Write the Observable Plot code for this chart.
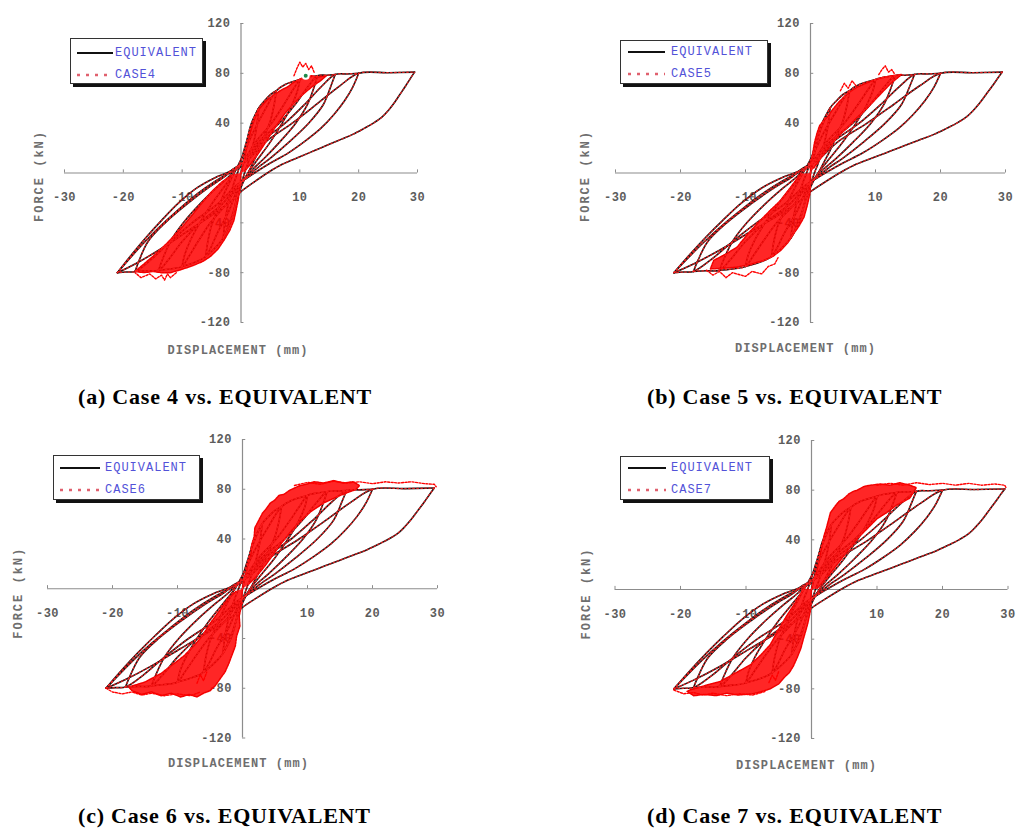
<!DOCTYPE html>
<html>
<head>
<meta charset="utf-8">
<script src="https://cdn.jsdelivr.net/npm/d3@7"></script>
<script src="https://cdn.jsdelivr.net/npm/@observablehq/plot@0.6"></script>
<style>
  body { margin: 0; background: #fff; }
  #root { position: relative; width: 1016px; height: 829px; overflow: hidden; background: #fff; }
  .panel { position: absolute; }
  .legend { position: absolute; box-sizing: border-box; background: #fff; border: 1px solid #333; box-shadow: 3px 3px 0 #111; }
  .legend span { position: absolute; font-family: "Liberation Mono", monospace; font-size: 12px; line-height: 14px; letter-spacing: 1.0px; color: #5252d8; white-space: nowrap; }
  .legend svg { position: absolute; left: 0; top: 0; }
  .caption { position: absolute; font-family: "Liberation Serif", "Times New Roman", serif; font-weight: bold; font-size: 22px; line-height: 22px; letter-spacing: 0.8px; white-space: nowrap; color: #000; }
</style>
</head>
<body>
<div id="root"></div>
<script>
// ---------- data ----------
const xTicks = [-30, -20, -10, 10, 20, 30];
const yTicks = [120, 80, 40, -40, -80, -120];
const xTitle = "DISPLACEMENT (mm)";
const yTitle = "FORCE (kN)";
const equivName = "EQUIVALENT";
const caseNames = ["CASE4", "CASE5", "CASE6", "CASE7"];
const captions = [
  "(a) Case 4 vs. EQUIVALENT",
  "(b) Case 5 vs. EQUIVALENT",
  "(c) Case 6 vs. EQUIVALENT",
  "(d) Case 7 vs. EQUIVALENT"
];

// EQUIVALENT hysteresis, one array per branch (reversal to reversal) [displacement mm, force kN]
const eqBranch1 = [[0,0],[0.5,12],[1,25],[1.7,39],[3,52]];
const eqBranch2 = [[3,52],[2.8,42],[2.4,30],[1.8,18],[1.2,8],[0.6,0],[0.2,-6],[-0.5,-14],[-1,-26],[-1.7,-39],[-3,-52]];
const eqBranch3 = [[-3,-52],[-2.8,-42],[-2.4,-30],[-1.8,-18],[-1.2,-8],[-0.6,0],[-0.2,6],[0.5,18],[1.5,34],[3,52],[4,58],[5,63],[6,66]];
const eqBranch4 = [[6,66],[5.6,54],[5,42],[4,30],[3,18],[2,8],[1.2,0],[0.5,-6],[-0.5,-18],[-1.5,-34],[-3,-52],[-4,-58],[-5,-63],[-6,-67]];
const eqBranch5 = [[-6,-67],[-5.6,-54],[-5,-42],[-4,-30],[-3,-18],[-2,-8],[-1.2,0],[-0.5,6],[0.5,16],[2,32],[4,50],[6,66],[7.5,71],[10,75]];
const eqBranch6 = [[10,75],[9.6,66],[8.6,54],[7,40],[5,25],[3,12],[1.6,3],[0.8,-3],[-0.5,-12],[-2,-30],[-4,-48],[-6,-67],[-7.5,-71],[-10,-75]];
const eqBranch7 = [[-10,-75],[-9.6,-66],[-8.6,-54],[-7,-40],[-5,-25],[-3,-12],[-1.6,-3],[-0.8,3],[0.5,10],[2.5,25],[5.2,40],[7.3,55],[9,68],[10,75],[11.5,77],[13,78]];
const eqBranch8 = [[13,78],[12.5,70],[11.3,55],[9.3,40],[6.6,25],[4,12],[2,3],[1,-3],[-0.5,-10],[-2.5,-25],[-5.2,-40],[-7.3,-55],[-9,-68],[-10,-75],[-12,-77],[-14,-78]];
const eqBranch9 = [[-14,-78],[-13.4,-70],[-12,-55],[-9.8,-40],[-7,-25],[-4.2,-12],[-2.1,-3],[-1,3],[0.6,10],[3,25],[6.5,40],[9.2,55],[11.5,70],[13,78],[14.5,78.5],[16,79]];
const eqBranch10 = [[16,79],[15.3,70],[14,55],[11.5,40],[8.2,25],[5,12],[2.5,3],[1.2,-3],[-0.6,-10],[-3.2,-25],[-7,-40],[-10,-55],[-12.4,-70],[-14,-78],[-16,-78.5],[-18,-79]];
const eqBranch11 = [[-18,-79],[-17.3,-70],[-15.8,-55],[-12.9,-40],[-9.2,-25],[-5.6,-12],[-2.8,-3],[-1.4,3],[0.8,10],[3.5,25],[7.5,40],[10.8,55],[13.8,70],[16,79],[18,79.5],[20,80]];
const eqBranch12 = [[20,80],[19,69],[17.6,58],[15.8,47],[13.6,36],[11,26],[8,16],[5,8],[2.6,1],[1,-4],[-0.8,-10],[-4,-25],[-8.3,-40],[-12,-55],[-15.4,-70],[-18,-79],[-19.5,-79.5],[-21,-80]];
const eqBranch13 = [[-21,-80],[-18.5,-65],[-16,-51],[-13.5,-38],[-10.6,-24],[-7.5,-12],[-4.5,-4],[-2,1],[1,10],[4.2,25],[8.7,40],[12.8,55],[16.8,70],[20,80],[25,80.5],[29.5,81]];
const eqBranch14 = [[29.5,81],[28.8,76],[28,70],[27,63],[26,56],[25,50],[24,45],[22.5,40],[21,36],[19,31],[17,27],[15,23],[12.5,18],[10,13],[7,7],[4.8,1],[2,-8],[0,-15],[-1.5,-22],[-5,-34],[-9.5,-48],[-14,-62],[-18,-73],[-21,-80]];
const eqBranch15 = [[-21,-80],[-18.8,-68],[-16.5,-56],[-14,-44],[-11,-31],[-7.5,-17],[-4.5,-7],[-2,0],[0,5]];
const equivalentBranches = [eqBranch1, eqBranch2, eqBranch3, eqBranch4, eqBranch5, eqBranch6, eqBranch7, eqBranch8,
  eqBranch9, eqBranch10, eqBranch11, eqBranch12, eqBranch13, eqBranch14, eqBranch15];

// dense test-data regions [x, y, part]
const case4Band = [
  [0,0,"q1"],[0.3,6,"q1"],[0.6,12,"q1"],[0.9,19,"q1"],[1.2,25,"q1"],[1.6,33,"q1"],[2.2,42,"q1"],[2.7,48,"q1"],[3.2,52,"q1"],[3.9,56,"q1"],[4.5,59,"q1"],[5.3,62,"q1"],[6,64,"q1"],[7,67,"q1"],[7.9,69,"q1"],[8.7,72,"q1"],[9.5,74,"q1"],[10.3,76,"q1"],[11,77,"q1"],[12,78,"q1"],[13,77,"q1"],[14.5,78,"q1"],
  [13.5,74,"q1"],[12,69,"q1"],[10.5,63,"q1"],[9,56,"q1"],[7.5,48,"q1"],[6,38,"q1"],[4.5,27,"q1"],[3,16,"q1"],[1.6,7,"q1"],[0.6,1.5,"q1"],
  [0,0,"q3"],[-0.1,-8,"q3"],[-0.2,-14,"q3"],[-0.5,-22,"q3"],[-0.8,-29,"q3"],[-1.2,-38,"q3"],[-1.9,-46,"q3"],[-2.9,-54,"q3"],[-3.9,-61,"q3"],[-5.2,-67,"q3"],[-6.5,-71,"q3"],[-8,-74,"q3"],[-9.2,-76,"q3"],[-10.5,-78,"q3"],[-12,-80,"q3"],[-13.5,-80,"q3"],[-15,-79,"q3"],[-16.5,-80,"q3"],[-18,-79,"q3"],
  [-16.5,-73,"q3"],[-14.5,-65,"q3"],[-12.5,-56,"q3"],[-10.5,-46,"q3"],[-8.7,-36,"q3"],[-6.8,-25,"q3"],[-5,-15,"q3"],[-3.2,-7,"q3"],[-1.2,-1,"q3"]
];
const case4Noise = [
  [9,78,"s1"],[9.5,84,"s1"],[10,89,"s1"],[10.5,85,"s1"],[11,88,"s1"],[11.5,83,"s1"],[12,86,"s1"],[12.5,80,"s1"],
  [-11,-80,"s2"],[-12,-84,"s2"],[-12.5,-81,"s2"],[-13,-86,"s2"],[-13.5,-82,"s2"],[-14.5,-85,"s2"],[-15.5,-81,"s2"],[-17,-84,"s2"],[-18,-80,"s2"]
];
const case4Marker = [[11,78]];

const case5Band = [
  [0,0,"q1"],[0,8,"q1"],[0.3,14,"q1"],[0.6,24,"q1"],[1,32,"q1"],[1.4,38,"q1"],[2,42,"q1"],[2.6,45,"q1"],[3.4,51,"q1"],[4.2,56,"q1"],[5.1,61,"q1"],[6,65,"q1"],[7.2,69,"q1"],[8.5,72,"q1"],[10,75,"q1"],[11.3,77,"q1"],[12.5,78,"q1"],[14,79,"q1"],
  [12.3,71.6,"q1"],[10.3,60.8,"q1"],[8.7,52,"q1"],[7.2,44.8,"q1"],[5.6,36,"q1"],[4.1,28.7,"q1"],[2.5,18,"q1"],[1.3,10,"q1"],[0.5,4,"q1"],
  [0,0,"q3"],[0,-9,"q3"],[-0.1,-16.7,"q3"],[-0.5,-26,"q3"],[-1,-35.5,"q3"],[-1.7,-42,"q3"],[-2.6,-48.8,"q3"],[-3.5,-56,"q3"],[-4.6,-62.2,"q3"],[-5.8,-67,"q3"],[-7.2,-70.2,"q3"],[-9,-73,"q3"],[-11.3,-75.6,"q3"],[-13.4,-76.5,"q3"],[-15.4,-77,"q3"],
  [-14.9,-70.2,"q3"],[-13,-65,"q3"],[-11.3,-59.5,"q3"],[-9.5,-48,"q3"],[-7.7,-38,"q3"],[-6.2,-30,"q3"],[-4.6,-22,"q3"],[-3,-11,"q3"],[-1.5,-0.6,"q3"]
];
const case5Noise = [
  [4.6,66,"s1"],[5.2,72,"s1"],[5.8,68,"s1"],[6.4,74,"s1"],[7,70,"s1"],
  [10.5,79,"s2"],[11,83,"s2"],[11.5,86,"s2"],[12,81,"s2"],[12.5,83,"s2"],[13,79,"s2"],
  [-16,-78,"s3"],[-15,-82,"s3"],[-14,-79,"s3"],[-13,-84,"s3"],[-12,-80,"s3"],[-10,-83,"s3"],[-9,-79,"s3"],[-7.5,-81,"s3"],[-6.5,-75,"s3"],[-5.5,-73,"s3"],[-5,-68,"s3"]
];

const case6Band = [
  [0,0,"q1"],[0.2,8,"q1"],[0.6,14,"q1"],[0.9,22,"q1"],[1.3,28,"q1"],[1.4,35,"q1"],[1.8,42,"q1"],[1.9,49,"q1"],[2.5,55,"q1"],[3.1,61,"q1"],[3.6,64,"q1"],[4.3,69,"q1"],[4.9,71,"q1"],[5.6,75,"q1"],[6.4,76,"q1"],[7.2,79,"q1"],[8,81,"q1"],[8.9,83,"q1"],[9.8,84,"q1"],[11,86,"q1"],[12.5,85,"q1"],[14,87,"q1"],[15.5,85,"q1"],[17,86,"q1"],[18,83,"q1"],
  [17.5,80,"q1"],[15,75,"q1"],[12.5,69,"q1"],[10.5,62,"q1"],[9,55,"q1"],[7.6,47,"q1"],[6.2,38,"q1"],[4.8,28,"q1"],[3.4,18,"q1"],[2,9,"q1"],[0.8,3,"q1"],
  [0,0,"q3"],[-0.1,-8,"q3"],[-0.2,-14,"q3"],[-0.5,-22,"q3"],[-0.4,-30,"q3"],[-0.9,-38,"q3"],[-1.1,-46,"q3"],[-1.6,-53,"q3"],[-2.1,-60,"q3"],[-2.7,-67,"q3"],[-3.4,-72,"q3"],[-4.2,-78,"q3"],[-5,-82,"q3"],[-6,-84,"q3"],[-7,-87,"q3"],[-8.2,-85,"q3"],[-9.5,-87,"q3"],[-11,-84,"q3"],[-12.5,-86,"q3"],[-14,-83,"q3"],[-15.5,-85,"q3"],[-17,-82,"q3"],[-17.5,-79,"q3"],
  [-15,-75,"q3"],[-12.5,-68,"q3"],[-10.5,-60,"q3"],[-9,-54,"q3"],[-7.5,-46,"q3"],[-6.2,-38,"q3"],[-5,-28,"q3"],[-3.6,-18,"q3"],[-2.2,-8,"q3"],[-1,-2,"q3"]
];
const case6Noise = [
  [8,83,"top"],[10,85.5,"top"],[12,84,"top"],[14,86.5,"top"],[16,85,"top"],[18,86,"top"],[20,84.5,"top"],[22,86,"top"],[24,85,"top"],[26,86,"top"],[28,84.5,"top"],[29.5,84,"top"],[29.8,82,"top"],
  [-21,-80,"bot"],[-20,-83,"bot"],[-18.5,-84.5,"bot"],[-17,-83,"bot"],[-15.5,-85.5,"bot"],[-14,-84,"bot"],[-12,-86,"bot"],[-10,-84.5,"bot"],[-8,-86,"bot"],[-6.5,-83,"bot"],
  [-7,-76,"sp"],[-6.5,-69,"sp"],[-6,-74,"sp"],[-5.5,-67,"sp"]
];

const case7Band = [
  [0,0,"q1"],[0.3,7,"q1"],[0.8,15,"q1"],[1.2,24,"q1"],[1.4,30,"q1"],[1.7,37,"q1"],[1.9,43,"q1"],[2.3,50,"q1"],[2.6,56,"q1"],[2.9,62,"q1"],[3.6,67,"q1"],[4.2,71,"q1"],[4.9,73,"q1"],[5.7,77,"q1"],[6.4,79,"q1"],[7,80,"q1"],[8,83,"q1"],[9,84,"q1"],[10.5,85,"q1"],[12,84,"q1"],[13.5,86,"q1"],[15,84,"q1"],[16,82,"q1"],
  [15,73.5,"q1"],[13,68,"q1"],[11.5,62,"q1"],[10,57,"q1"],[8.5,49,"q1"],[7,41,"q1"],[5.5,31,"q1"],[3.9,20,"q1"],[2.4,10,"q1"],[0.9,1,"q1"],
  [0,0,"q3"],[-0.1,-10,"q3"],[-0.2,-18,"q3"],[-0.6,-28,"q3"],[-1.2,-39,"q3"],[-1.6,-47,"q3"],[-2.2,-55,"q3"],[-2.8,-62,"q3"],[-3.4,-67,"q3"],[-4.2,-71,"q3"],[-5,-76,"q3"],[-6.3,-80,"q3"],[-7.5,-82,"q3"],[-9,-84,"q3"],[-11.3,-85,"q3"],[-13,-83.5,"q3"],[-14.5,-85.5,"q3"],[-16.4,-84.5,"q3"],[-18,-85.5,"q3"],[-19,-82,"q3"],
  [-18.5,-80.8,"q3"],[-16,-77,"q3"],[-13.9,-74,"q3"],[-11.5,-67,"q3"],[-9.3,-60.6,"q3"],[-7.8,-53,"q3"],[-6.3,-44.5,"q3"],[-5,-32,"q3"],[-3.7,-20.4,"q3"],[-2.4,-10,"q3"],[-1.2,1,"q3"]
];
const case7Noise = [
  [10,84,"top"],[12,85.5,"top"],[14,84,"top"],[16,86,"top"],[18,84.5,"top"],[20,85.5,"top"],[22,84,"top"],[24,85.5,"top"],[26,84,"top"],[28,85,"top"],[29.5,84,"top"],[29.7,82,"top"],
  [-21,-81,"bot"],[-19.5,-84,"bot"],[-18,-83,"bot"],[-16.5,-85,"bot"],[-15,-83.5,"bot"],[-13,-85.5,"bot"],[-11,-84,"bot"],[-9,-85,"bot"],[-7,-82,"bot"],
  [-6.5,-75,"sp"],[-6,-69,"sp"],[-5.5,-73,"sp"],[-5,-66,"sp"]
];

// ---------- table for the library ----------
const equivalent = equivalentBranches.flatMap((b, i) => b.map(([x, y]) => [x, y, i]));

// ---------- layout ----------
const panels = [
  { caseName: caseNames[0], caption: captions[0], band: case4Band, noise: case4Noise, marker: case4Marker,
    box: {left: 0, top: 0, width: 508, height: 400}, margin: {l: 64, r: 91, t: 23, b: 78},
    ylab: {dx: -25, dy: 3}, xlab: {dx: -3, dy: 28},
    legend: {left: 70, top: 38, w: 133, h: 46, s1: 6, s2: 42, tx: 44, r1: 14, r2: 36},
    cap: {left: 78, top: 385.6} },
  { caseName: caseNames[1], caption: captions[1], band: case5Band, noise: case5Noise, marker: [],
    box: {left: 508, top: 0, width: 508, height: 400}, margin: {l: 107, r: 11, t: 23, b: 78},
    ylab: {dx: -30, dy: 3}, xlab: {dx: -5, dy: 26},
    legend: {left: 620, top: 40, w: 148, h: 44, s1: 7, s2: 44, tx: 50, r1: 11, r2: 33},
    cap: {left: 647, top: 385.6} },
  { caseName: caseNames[2], caption: captions[2], band: case6Band, noise: case6Noise, marker: [],
    box: {left: 0, top: 400, width: 508, height: 429}, margin: {l: 47, r: 71, t: 39, b: 91.5},
    ylab: {dx: -29, dy: 4}, xlab: {dx: -4, dy: 25.5},
    legend: {left: 53, top: 455, w: 147, h: 45, s1: 6, s2: 46, tx: 51, r1: 12, r2: 34},
    cap: {left: 78, top: 804.6} },
  { caseName: caseNames[3], caption: captions[3], band: case7Band, noise: case7Noise, marker: [],
    box: {left: 508, top: 400, width: 508, height: 429}, margin: {l: 106.5, r: 8.5, t: 40, b: 91},
    ylab: {dx: -28.5, dy: 4}, xlab: {dx: -5, dy: 27},
    legend: {left: 620, top: 456, w: 150, h: 44, s1: 7, s2: 45, tx: 50, r1: 11, r2: 33},
    cap: {left: 647, top: 804.6} }
];

const root = document.getElementById("root");
const X = d => d[0], Y = d => d[1], Z = d => d[2];
const axisColor = "#8c8c8c";
const tickFont = {fontFamily: "Liberation Mono", fontSize: 12, fontWeight: "bold", fill: "#5c5c5c"};
const titleFont = {fontFamily: "Liberation Mono", fontSize: 12, fontWeight: "bold", fill: "#6e6e6e"};

for (const p of panels) {
  const svg = Plot.plot({
    width: p.box.width,
    height: p.box.height,
    marginLeft: p.margin.l, marginRight: p.margin.r, marginTop: p.margin.t, marginBottom: p.margin.b,
    x: {domain: [-30, 30], axis: null},
    y: {domain: [-120, 120], axis: null},
    style: {background: "transparent", overflow: "visible"},
    marks: [
      Plot.ruleY([0], {x1: -30, x2: 30, stroke: axisColor, strokeWidth: 1.2}),
      Plot.ruleX([0], {y1: -120, y2: 120, stroke: axisColor, strokeWidth: 1.2}),
      Plot.ruleX(xTicks, {x: d => d, y1: 0, y2: 2.5, stroke: axisColor}),
      Plot.ruleY(yTicks, {y: d => d, x1: 0, x2: 0.5, stroke: axisColor}),
      Plot.text(xTicks, {x: d => d, y: 0, dy: 24.5, text: d => String(d), textAnchor: "middle", ...tickFont}),
      Plot.text(yTicks, {x: 0, y: d => d, dx: -10.5, text: d => String(d), textAnchor: "end", ...tickFont}),
      Plot.text([yTitle], {frameAnchor: "left", dx: p.ylab.dx, dy: p.ylab.dy, rotate: -90, textAnchor: "middle", lineAnchor: "middle", ...titleFont}),
      Plot.text([xTitle], {frameAnchor: "bottom", dx: p.xlab.dx, dy: p.xlab.dy, textAnchor: "middle", lineAnchor: "middle", ...titleFont}),
      Plot.line(equivalent, {x: X, y: Y, z: Z, stroke: "#141414", strokeWidth: 1.6, curve: "catmull-rom"}),
      Plot.line(p.band, {x: X, y: Y, z: Z, fill: "#ff0000", fillOpacity: 0.85, stroke: "#f20000", strokeWidth: 1.5, strokeDasharray: "2,1"}),
      Plot.line(equivalent, {x: X, y: Y, z: Z, stroke: "#ff2020", strokeWidth: 1.3, strokeDasharray: "1.5,2.5", strokeOpacity: 0.85, curve: "catmull-rom"}),
      Plot.line(p.noise, {x: X, y: Y, z: Z, stroke: "#ff0000", strokeWidth: 1.4, strokeDasharray: "2,1.5"}),
      Plot.dot(p.marker, {x: X, y: Y, r: 3, fill: "#1d8a4a", stroke: "#ffffff", strokeWidth: 2})
    ]
  });
  svg.classList.add("panel");
  svg.style.left = p.box.left + "px";
  svg.style.top = p.box.top + "px";
  svg.style.position = "absolute";
  d3.select(svg).selectAll("text").each(function () {
    const t = this.textContent;
    let ls = 0.5;
    if (t === xTitle) ls = 1.1;
    else if (t === yTitle) ls = 2.0;
    this.style.letterSpacing = ls + "px";
  });
  root.appendChild(svg);

  // legend
  const L = p.legend;
  const lg = document.createElement("div");
  lg.className = "legend";
  lg.style.left = L.left + "px";
  lg.style.top = L.top + "px";
  lg.style.width = L.w + "px";
  lg.style.height = L.h + "px";
  const ns = "http://www.w3.org/2000/svg";
  const ls = document.createElementNS(ns, "svg");
  ls.setAttribute("width", L.w);
  ls.setAttribute("height", L.h);
  const l1 = document.createElementNS(ns, "line");
  l1.setAttribute("x1", L.s1); l1.setAttribute("x2", L.s2);
  l1.setAttribute("y1", L.r1); l1.setAttribute("y2", L.r1);
  l1.setAttribute("stroke", "#111"); l1.setAttribute("stroke-width", "2");
  const l2 = document.createElementNS(ns, "line");
  l2.setAttribute("x1", L.s1); l2.setAttribute("x2", L.s2);
  l2.setAttribute("y1", L.r2); l2.setAttribute("y2", L.r2);
  l2.setAttribute("stroke", "#e0606e"); l2.setAttribute("stroke-width", "2.5");
  l2.setAttribute("stroke-dasharray", "3,6");
  ls.appendChild(l1); ls.appendChild(l2);
  lg.appendChild(ls);
  const t1 = document.createElement("span");
  t1.textContent = equivName;
  t1.style.left = L.tx + "px"; t1.style.top = (L.r1 - 7) + "px";
  const t2 = document.createElement("span");
  t2.textContent = p.caseName;
  t2.style.left = L.tx + "px"; t2.style.top = (L.r2 - 7) + "px";
  lg.appendChild(t1); lg.appendChild(t2);
  root.appendChild(lg);

  // caption
  const cap = document.createElement("div");
  cap.className = "caption";
  cap.textContent = p.caption;
  cap.style.left = p.cap.left + "px";
  cap.style.top = p.cap.top + "px";
  root.appendChild(cap);
}
</script>
</body>
</html>
